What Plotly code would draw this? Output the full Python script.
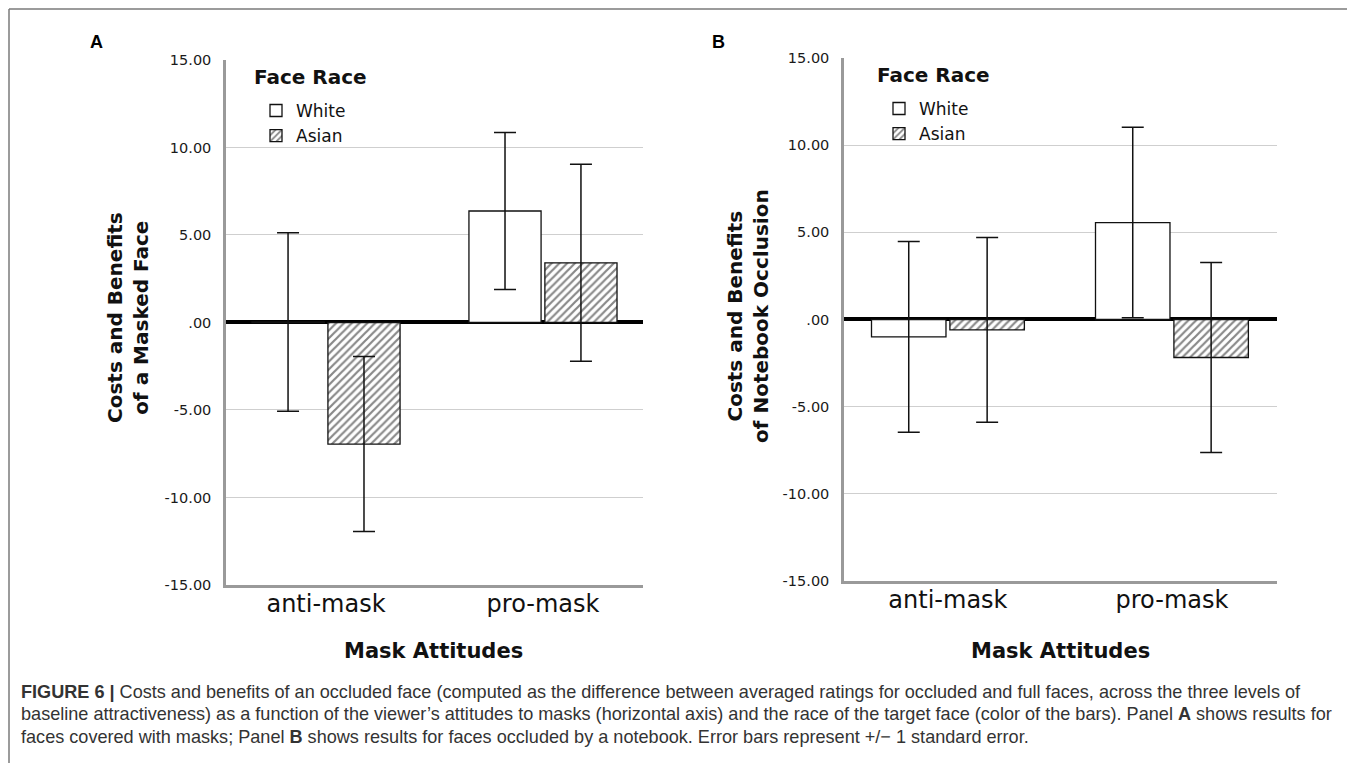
import plotly.graph_objects as go

# ---------------- data ----------------
categories = ["anti-mask", "pro-mask"]
series_names = ["White", "Asian"]

# Panel A: masked face
a_white = [0.03, 6.37]
a_white_se = [5.10, 4.48]
a_asian = [-6.95, 3.41]
a_asian_se = [5.00, 5.63]

# Panel B: notebook occlusion
b_white = [-1.00, 5.56]
b_white_se = [5.47, 5.46]
b_asian = [-0.60, -2.18]
b_asian_se = [5.30, 5.45]

y_tickvals = [-15, -10, -5, 0, 5, 10, 15]
y_ticktext = ["-15.00", "-10.00", "-5.00", ".00", "5.00", "10.00", "15.00"]

caption_lines = [
    "<b>FIGURE 6 | </b>Costs and benefits of an occluded face (computed as the difference between averaged ratings for occluded and full faces, across the three levels of",
    "baseline attractiveness) as a function of the viewer\u2019s attitudes to masks (horizontal axis) and the race of the target face (color of the bars). Panel <b>A</b> shows results for",
    "faces covered with masks; Panel <b>B</b> shows results for faces occluded by a notebook. Error bars represent +/\u2212 1 standard error.",
]

# ---------------- layout helpers ----------------
# The page body keeps its default 8px margin, so the figure is drawn 16px
# smaller than the window; positions below are given in window pixels.
PAGE_W, PAGE_H = 1355, 779
OFF = 8
W, H = PAGE_W - 2 * OFF, PAGE_H - 2 * OFF
# small vertical correction measured on earlier renders
VS, VO = 0.979, 8.2

def fx(px):
    return (px - OFF) / W
def fy(py):
    py = (py - VO) / VS
    return 1 - (py - OFF) / H

CHART_FONT = "DejaVu Sans"
CAP_FONT = "Liberation Sans"

fig = go.Figure()

def add_panel(values_white, se_white, values_asian, se_asian, xref, yref, legend):
    for name, vals, se, hatched in [("White", values_white, se_white, False),
                                    ("Asian", values_asian, se_asian, True)]:
        marker = dict(color="white", line=dict(color="#111111", width=1.3))
        if hatched:
            marker["pattern"] = dict(shape="/", fgcolor="#111111", bgcolor="white",
                                     size=5.5, solidity=0.4)
        fig.add_trace(go.Bar(
            x=categories, y=vals, name=name,
            xaxis=xref, yaxis=yref, legend=legend,
            marker=marker,
            error_y=dict(type="data", array=se, visible=True,
                         color="#111111", thickness=1.5, width=11),
            offsetgroup=name,
        ))

add_panel(a_white, a_white_se, a_asian, a_asian_se, "x", "y", "legend")
add_panel(b_white, b_white_se, b_asian, b_asian_se, "x2", "y2", "legend2")

common_y = dict(
    range=[-15, 15], tickvals=y_tickvals, ticktext=y_ticktext,
    showgrid=True, gridcolor="#cfcfcf", gridwidth=1,
    zeroline=True, zerolinecolor="#000000", zerolinewidth=4,
    showline=True, linecolor="#9a9a9a", linewidth=2.5,
    ticks="", ticklabelstandoff=9,
    tickfont=dict(family=CHART_FONT, size=14.5, color="#1a1a1a"),
    fixedrange=True,
)
common_x = dict(
    showgrid=False, zeroline=False,
    showline=True, linecolor="#9a9a9a", linewidth=2.5,
    ticks="", ticklabelstandoff=-5,
    tickfont=dict(family=CHART_FONT, size=24, color="#111111"),
    fixedrange=True,
)

legend_common = dict(
    xanchor="left", yanchor="top",
    bgcolor="rgba(0,0,0,0)", borderwidth=0,
    font=dict(family=CHART_FONT, size=17, color="#111111"),
    tracegroupgap=0, itemclick=False, itemdoubleclick=False,
)

fig.update_layout(
    width=W, height=H,
    margin=dict(l=0, r=0, t=0, b=0),
    paper_bgcolor="white", plot_bgcolor="white",
    barmode="group", bargap=0.3, bargroupgap=0.05,
    xaxis=dict(domain=[fx(226), fx(643)], range=[-0.461, 1.461], anchor="y", **common_x),
    yaxis=dict(domain=[fy(585), fy(60)], anchor="x", **common_y),
    xaxis2=dict(domain=[fx(844), fx(1277)], range=[-0.464, 1.469], anchor="y2", **common_x),
    yaxis2=dict(domain=[fy(581), fy(58)], anchor="x2", **common_y),
    legend=dict(x=fx(256), y=fy(93), **legend_common),
    legend2=dict(x=fx(879), y=fy(91), **legend_common),
    showlegend=True,
)

def note(text, x, y, size, family=CHART_FONT, xanchor="center", angle=0, color="#111111"):
    return dict(text=text, x=fx(x), y=fy(y), xref="paper", yref="paper",
                xanchor=xanchor, yanchor="middle", showarrow=False, textangle=angle,
                font=dict(family=family, size=size, color=color))

annotations = [
    note("<b>A</b>", 96, 42, 18, family=CAP_FONT, color="#000000"),
    note("<b>B</b>", 718, 42, 18, family=CAP_FONT, color="#000000"),
    note("<b>Face Race</b>", 252, 77, 20, xanchor="left"),
    note("<b>Face Race</b>", 875, 75, 20, xanchor="left"),
    note("<b>Costs and Benefits<br>of a Masked Face</b>", 128, 318, 20, angle=-90),
    note("<b>Costs and Benefits<br>of Notebook Occlusion</b>", 748, 316, 20, angle=-90),
    note("<b>Mask Attitudes</b>", 434, 651, 21),
    note("<b>Mask Attitudes</b>", 1060, 651, 21),
]
for i, line in enumerate(caption_lines):
    annotations.append(note(line, 19, 692 + 22.5 * i, 18.1, family=CAP_FONT,
                            xanchor="left", color="#333333"))
fig.update_layout(annotations=annotations)

# outer frame (top and left edges)
fig.update_layout(shapes=[
    dict(type="line", xref="paper", yref="paper", x0=fx(9), x1=1, y0=fy(9), y1=fy(9),
         line=dict(color="#7a7a7a", width=1.5)),
    dict(type="line", xref="paper", yref="paper", x0=fx(9), x1=fx(9), y0=fy(9), y1=0,
         line=dict(color="#7a7a7a", width=1.5)),
])

fig.write_html("out.html", config={"displayModeBar": False})
